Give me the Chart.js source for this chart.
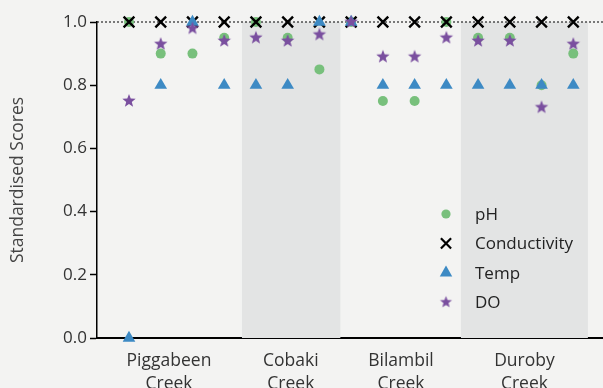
<!DOCTYPE html>
<html>
<head>
<meta charset="utf-8">
<script src="https://cdn.jsdelivr.net/npm/chart.js@4"></script>
<style>
  html, body { margin: 0; padding: 0; background: #f3f3f2; }
  #wrap { width: 603px; height: 388px; }
</style>
</head>
<body>
<div id="wrap"><canvas id="c" width="603" height="388"></canvas></div>
<script>
// Sampling sites along each creek (x index 0..14)
const sites = [0, 1, 2, 3, 4, 5, 6, 7, 8, 9, 10, 11, 12, 13, 14];

// Standardised scores per site
const ph           = [1.00, 0.90, 0.90, 0.95, 1.00, 0.95, 0.85, 1.00, 0.75, 0.75, 1.00, 0.95, 0.95, 0.80, 0.90];
const conductivity = [1.00, 1.00, 1.00, 1.00, 1.00, 1.00, 1.00, 1.00, 1.00, 1.00, 1.00, 1.00, 1.00, 1.00, 1.00];
const temp         = [0.00, 0.80, 1.00, 0.80, 0.80, 0.80, 1.00, 1.00, 0.80, 0.80, 0.80, 0.80, 0.80, 0.80, 0.80];
const dissolvedO2  = [0.75, 0.93, 0.98, 0.94, 0.95, 0.94, 0.96, 1.00, 0.89, 0.89, 0.95, 0.94, 0.94, 0.73, 0.93];

// Creek groups: label lines and label position on the site axis
const creekLabels = [['Piggabeen', 'Creek'], ['Cobaki', 'Creek'], ['Bilambil', 'Creek'], ['Duroby', 'Creek']];
const creekCentres = [1.26, 5.10, 8.57, 12.46];

// Shaded creek bands (site-axis units)
const bandStarts = [3.56, 10.46];
const bandEnds   = [6.66, 14.46];

const yTicks = [0, 0.2, 0.4, 0.6, 0.8, 1.0];

const COLORS = { ph: '#78c07c', cond: '#000000', temp: '#3d8ac4', dO: '#7a4f9f' };
const FONT = '"Open Sans", "Liberation Sans", Arial, sans-serif';

function starCanvas(outer, color) {
  const size = Math.ceil(outer * 2 + 2);
  const cv = document.createElement('canvas');
  cv.width = size; cv.height = size;
  const g = cv.getContext('2d');
  const cx = size / 2, cy = size / 2, inner = outer * 0.42;
  g.beginPath();
  for (let i = 0; i < 10; i++) {
    const r = i % 2 === 0 ? outer : inner;
    const a = -Math.PI / 2 + i * Math.PI / 5;
    const px = cx + Math.cos(a) * r, py = cy + Math.sin(a) * r;
    if (i === 0) g.moveTo(px, py); else g.lineTo(px, py);
  }
  g.closePath();
  g.fillStyle = color;
  g.fill();
  return cv;
}
const starImg = starCanvas(7, COLORS.dO);
const starLegendImg = starCanvas(6.3, COLORS.dO);

function pts(arr) { return sites.map((s, i) => ({ x: s, y: arr[i] })); }

const bandPlugin = {
  id: 'bands',
  beforeDatasetsDraw(chart) {
    const { ctx, chartArea, scales } = chart;
    ctx.save();
    ctx.fillStyle = '#e3e4e4';
    bandStarts.forEach((s, i) => {
      const x0 = scales.x.getPixelForValue(s);
      const x1 = scales.x.getPixelForValue(bandEnds[i]);
      ctx.fillRect(x0, chartArea.top, x1 - x0, chartArea.bottom - chartArea.top);
    });
    // dotted reference line at the maximum score
    const y1 = scales.y.getPixelForValue(1.0);
    ctx.strokeStyle = '#000';
    ctx.lineWidth = 1;
    ctx.setLineDash([2, 2]);
    ctx.beginPath();
    ctx.moveTo(chartArea.left, y1);
    ctx.lineTo(chartArea.right, y1);
    ctx.stroke();
    ctx.restore();
  }
};

const legendPlugin = {
  id: 'innerLegend',
  afterDraw(chart) {
    const { ctx } = chart;
    const items = [
      { label: 'pH', style: 'circle', r: 4.6, color: COLORS.ph, bw: 0 },
      { label: 'Conductivity', style: 'crossRot', r: 7.2, color: COLORS.cond, bw: 2.2 },
      { label: 'Temp', style: 'triangle', r: 7.2, color: COLORS.temp, bw: 0 },
      { label: 'DO', style: starLegendImg, r: 6, color: COLORS.dO, bw: 0 }
    ];
    const mx = 446, tx = 475, y0 = 214, dy = 29.4;
    ctx.save();
    items.forEach((it, i) => {
      const y = y0 + i * dy;
      ctx.fillStyle = it.color;
      ctx.strokeStyle = it.color;
      ctx.lineWidth = it.bw;
      Chart.helpers.drawPoint(ctx, { pointStyle: it.style, radius: it.r, borderWidth: it.bw, rotation: 0 }, mx, y);
      ctx.fillStyle = '#222';
      ctx.font = '17px ' + FONT;
      ctx.textAlign = 'left';
      ctx.textBaseline = 'middle';
      ctx.fillText(it.label, tx, y + 1);
    });
    ctx.restore();
  }
};

new Chart(document.getElementById('c'), {
  type: 'scatter',
  data: {
    datasets: [
      { label: 'pH', data: pts(ph), pointStyle: 'circle', pointRadius: 5, pointHoverRadius: 5,
        backgroundColor: COLORS.ph, borderColor: COLORS.ph, borderWidth: 0, order: 4 },
      { label: 'Conductivity', data: pts(conductivity), pointStyle: 'crossRot', pointRadius: 7.6, pointHoverRadius: 7.6,
        backgroundColor: COLORS.cond, borderColor: COLORS.cond, borderWidth: 2.4, order: 3 },
      { label: 'Temp', data: pts(temp), pointStyle: 'triangle', pointRadius: 7.3, pointHoverRadius: 7.3,
        backgroundColor: COLORS.temp, borderColor: COLORS.temp, borderWidth: 0, order: 2 },
      { label: 'DO', data: pts(dissolvedO2), pointStyle: starImg, pointRadius: 7, pointHoverRadius: 7,
        backgroundColor: COLORS.dO, borderColor: COLORS.dO, borderWidth: 0, order: 1 }
    ]
  },
  options: {
    responsive: false,
    animation: false,
    clip: false,
    layout: { autoPadding: false, padding: { top: 22, right: 0, left: 0, bottom: 0 } },
    plugins: { legend: { display: false }, tooltip: { enabled: false } },
    scales: {
      x: {
        type: 'linear',
        min: -1.008,
        max: 14.936,
        afterBuildTicks(scale) { scale.ticks = creekCentres.map(v => ({ value: v })); },
        afterFit(scale) { scale.height = 50; scale.paddingLeft = 0; scale.paddingRight = 0; },
        grid: { display: true, drawOnChartArea: false, drawTicks: false },
        border: { display: true, color: '#000', width: 2 },
        ticks: {
          autoSkip: false,
          maxRotation: 0,
          padding: 12,
          color: '#333',
          font: { size: 17.5, family: FONT, lineHeight: 1.3 },
          callback(value) {
            const i = creekCentres.indexOf(value);
            return i >= 0 ? creekLabels[i] : '';
          }
        }
      },
      y: {
        min: 0,
        max: 1,
        afterBuildTicks(scale) { scale.ticks = yTicks.map(v => ({ value: v })); },
        afterFit(scale) { scale.width = 97; scale.paddingTop = 0; scale.paddingBottom = 0; },
        grid: { drawOnChartArea: false, drawTicks: true, tickLength: 7, color: '#000', tickWidth: 1.5 },
        border: { display: true, color: '#000', width: 1.5 },
        ticks: {
          padding: 3,
          color: '#333',
          font: { size: 17, family: FONT },
          callback(value) { return value.toFixed(1); }
        },
        title: {
          display: true,
          text: 'Standardised Scores',
          color: '#444',
          padding: { top: 8, bottom: 0 },
          font: { size: 17.5, family: FONT }
        }
      }
    }
  },
  plugins: [bandPlugin, legendPlugin]
});
</script>
</body>
</html>
